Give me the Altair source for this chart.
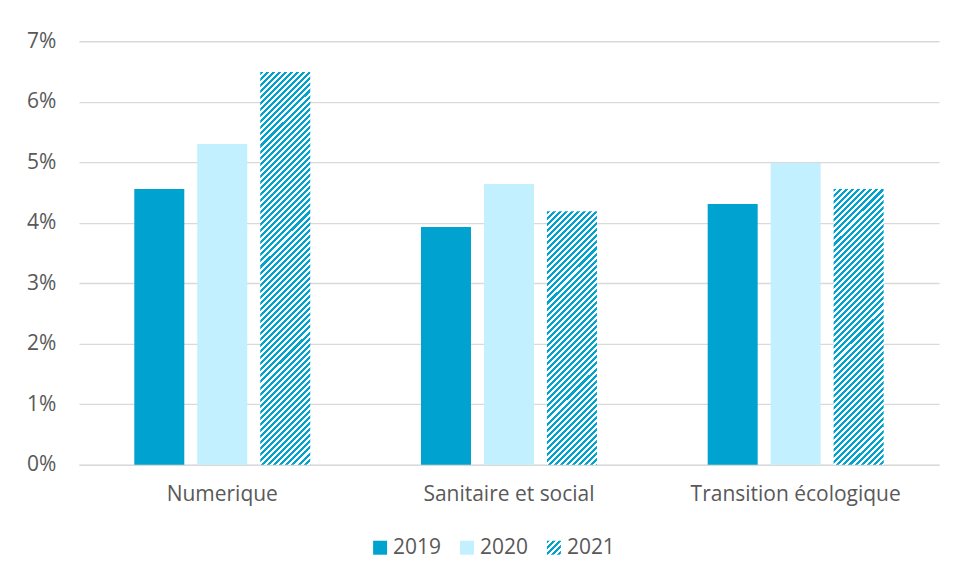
import altair as alt
import pandas as pd
from altair import datum

# ---- data ----
categories = ["Numerique", "Sanitaire et social", "Transition écologique"]
years = ["2019", "2020", "2021"]
v2019 = [0.0456, 0.0393, 0.0431]
v2020 = [0.0530, 0.0464, 0.0499]
v2021 = [0.0649, 0.0419, 0.0456]
y_ticks = [0.0, 0.01, 0.02, 0.03, 0.04, 0.05, 0.06, 0.07]

# ---- styles ----
DARK = "#00A3D0"
LIGHT = "#C3F0FE"
TEXT = "#595959"
GRID = "#D9D9D9"
FONT = "Open Sans"
FS = 21
W, H = 861, 424
YMAX = 0.07
BAR_W = 50
SEG = 0.005            # hatched bars are drawn as stacked tiles of this value height
OV = 0.00012           # tiny overlap between tiles to hide seams
SEG_PX = SEG / YMAX * H
PERIOD = SEG_PX / 5.0  # stripe period, a divisor of the tile height -> seamless pattern

rows = []
for c, a, b in zip(categories, v2019, v2020):
    rows.append({"cat": c, "year": "2019", "value": a})
    rows.append({"cat": c, "year": "2020", "value": b})
df = pd.DataFrame(rows)


def hatch(w, h, period=PERIOD):
    """Diagonal '/' stripes built as a hard-stop linear gradient (phase from top-left)."""
    span = w + h
    a = span / (w * w + h * h)
    stops = []
    k = 0
    while True:
        o0 = k * period / span
        if o0 >= 1:
            break
        o1 = min((k + 0.5) * period / span, 1.0)
        o2 = min((k + 1) * period / span, 1.0)
        stops += [(o0, DARK), (o1, DARK), (o1, "#FFFFFF"), (o2, "#FFFFFF")]
        k += 1
    return alt.LinearGradient(
        gradient="linear", x1=0, y1=0, x2=a * w, y2=a * h,
        stops=[alt.GradientStop(offset=o, color=col) for o, col in stops],
    )


# tiles of the 2021 (hatched) bars, from the top of each bar downward
tiles_full = []
tiles_rem = []
for c, v in zip(categories, v2021):
    top = v
    while top - SEG > 1e-9:
        bot = top - SEG
        tiles_full.append({"cat": c, "year": "2021", "top": top, "bot": bot - OV})
        top = bot
    tiles_rem.append({"cat": c, "year": "2021", "top": top, "bot": 0.0})
df_full = pd.DataFrame(tiles_full)

x_enc = alt.X(
    "cat:N", sort=categories,
    scale=alt.Scale(domain=categories, paddingInner=0.341, paddingOuter=0.1705),
    axis=alt.Axis(title=None, labelAngle=0, ticks=False, domainColor=GRID,
                  domainWidth=1.5, labelPadding=19, labelFontSize=FS, labelLimit=0,
                  labelColor=TEXT, labelFont=FONT),
)
xoff = alt.XOffset("year:N", sort=years,
                   scale=alt.Scale(domain=years, paddingInner=0.206, paddingOuter=0.103))
y_axis = alt.Axis(title=None, values=y_ticks, format=".0%", domain=False, ticks=False,
                  gridColor=GRID, gridWidth=1.3, labelPadding=23, labelFontSize=FS,
                  labelColor=TEXT, labelFont=FONT)
y_scale = alt.Scale(domain=[0, YMAX])
color_enc = alt.Color("year:N", scale=alt.Scale(domain=["2019", "2020"], range=[DARK, LIGHT]),
                      legend=None)

solid = alt.Chart(df).mark_bar().encode(
    x=x_enc, xOffset=xoff,
    y=alt.Y("value:Q", scale=y_scale, axis=y_axis),
    color=color_enc,
)

hatched_full = alt.Chart(df_full).mark_bar(
    fill=hatch(BAR_W, (SEG + OV) / YMAX * H)
).encode(
    x=x_enc, xOffset=xoff,
    y=alt.Y("top:Q", scale=y_scale, axis=y_axis), y2="bot:Q",
)

hatched_rem = [
    alt.Chart(pd.DataFrame([r])).mark_bar(fill=hatch(BAR_W, r["top"] / YMAX * H))
    .encode(x=x_enc, xOffset=xoff, y=alt.Y("top:Q", scale=y_scale, axis=y_axis), y2="bot:Q")
    for r in tiles_rem
]

main = alt.layer(solid, hatched_full, *hatched_rem).properties(width=W, height=H)

# ---- custom legend (hatched swatch) ----
leg_df = pd.DataFrame({"year": years})
lx = alt.X("year:N", sort=years,
           scale=alt.Scale(type="point", domain=years, padding=1, align=0.2586),
           axis=None)
leg_sq = alt.Chart(leg_df).transform_filter(datum.year != "2021").mark_square(
    size=196, opacity=1).encode(x=lx, color=color_enc)
leg_hatch = alt.Chart(leg_df).transform_filter(datum.year == "2021").mark_square(
    size=196, opacity=1, fill=hatch(14, 14, 6.0)).encode(x=lx)
leg_text = alt.Chart(leg_df).mark_text(
    align="left", baseline="middle", dx=13, fontSize=FS, font=FONT, color=TEXT
).encode(x=lx, text="year:N")
legend = alt.layer(leg_sq, leg_hatch, leg_text).properties(width=348, height=20)

chart = alt.vconcat(main, legend, spacing=73, bounds="flush", center=True).properties(
    padding={"left": 18, "top": 22, "right": 10, "bottom": 5},
    background="#FFFFFF",
).configure_view(stroke=None)

chart.save("out.html", embed_options={"renderer": "svg", "actions": False})
